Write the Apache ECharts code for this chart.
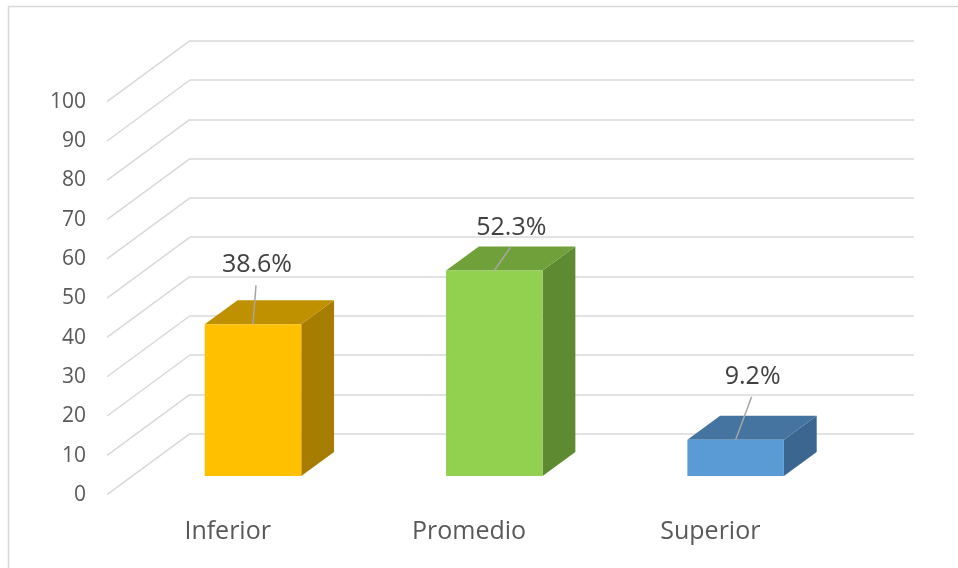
<!DOCTYPE html>
<html>
<head>
<meta charset="utf-8">
<script src="https://cdn.jsdelivr.net/npm/echarts@6/dist/echarts.min.js"></script>
<style>
  html, body { margin: 0; padding: 0; background: #fff; }
  #chart { width: 958px; height: 568px; }
</style>
</head>
<body>
<div id="chart"></div>
<script>
// data
const categories = ['Inferior', 'Promedio', 'Superior'];
const values = [38.6, 52.3, 9.2];
const valueLabels = ['38.6%', '52.3%', '9.2%'];
const yTicks = [0, 10, 20, 30, 40, 50, 60, 70, 80, 90, 100];

// look
const FONT = '"Open Sans", "Noto Sans", sans-serif';
const GRID_COLOR = '#d9d9d9';
const frontColors = ['#FFC000', '#92D050', '#5B9BD5'];
const topColors = ['#BF9000', '#6FA03A', '#44749F'];
const sideColors = ['#A67D00', '#5E8A31', '#3A6690'];
// oblique depth of the floor (back wall -> front edge), px
const DEPTH = [-83, 61];
const T_FRONT = 0.695, T_BACK = 0.30;
const BAR_RATIO = 0.4;
// label centre relative to the bar's front-top centre
const labelOffsets = [[4, -59], [17, -43], [17, -63]];

const chart = echarts.init(document.getElementById('chart'));

const option = {
  animation: false,
  backgroundColor: '#fff',
  graphic: [{
    type: 'rect',
    shape: { x: 8.5, y: 6.5, width: 980, height: 600 },
    style: { fill: 'none', stroke: GRID_COLOR, lineWidth: 1.5 },
    silent: true
  }],
  grid: [
    // back wall
    { left: 190, right: 44, top: 40.7, bottom: 134.4, outerBoundsMode: 'none', containLabel: false },
    // front edge (axis labels)
    { left: 107, right: 127, top: 101.7, bottom: 73, outerBoundsMode: 'none', containLabel: false }
  ],
  xAxis: [
    { gridIndex: 0, type: 'category', data: categories, show: false },
    {
      gridIndex: 1, type: 'category', data: categories,
      axisLine: { show: false }, axisTick: { show: false },
      axisLabel: { color: '#595959', fontSize: 25, fontFamily: FONT, margin: 24 }
    }
  ],
  yAxis: [
    {
      gridIndex: 0, type: 'value', min: 0, max: 100, interval: 10,
      axisLine: { show: false }, axisTick: { show: false }, axisLabel: { show: false },
      splitLine: { lineStyle: { color: GRID_COLOR, width: 1.5 } }
    },
    {
      gridIndex: 1, type: 'value', min: 0, max: 100, interval: 10,
      axisLine: { show: false }, axisTick: { show: false }, splitLine: { show: false },
      axisLabel: { color: '#595959', fontSize: 21, fontFamily: FONT, margin: 21 }
    }
  ],
  series: [
    {
      // diagonal gridlines on the left side wall
      type: 'custom',
      xAxisIndex: 0, yAxisIndex: 0,
      clip: false, silent: true,
      data: yTicks.map(t => [0, t]),
      renderItem: function (params, api) {
        const y = api.coord([0, api.value(1)])[1];
        const x = params.coordSys.x;
        return {
          type: 'line',
          shape: { x1: x, y1: y, x2: x + DEPTH[0], y2: y + DEPTH[1] },
          style: { stroke: GRID_COLOR, lineWidth: 1.5 }
        };
      }
    },
    {
      type: 'custom',
      xAxisIndex: 0, yAxisIndex: 0,
      clip: false, silent: true,
      data: values.map((v, i) => [i, v]),
      renderItem: function (params, api) {
        const i = params.dataIndex;
        const topPt = api.coord([api.value(0), api.value(1)]);
        const basePt = api.coord([api.value(0), 0]);
        const w = api.size([1, 0])[0] * BAR_RATIO;
        const fx = DEPTH[0] * T_FRONT, fy = DEPTH[1] * T_FRONT;
        const bx = DEPTH[0] * T_BACK, by = DEPTH[1] * T_BACK;
        const l = topPt[0] - w / 2, r = topPt[0] + w / 2;
        const top = topPt[1], base = basePt[1];

        const fTL = [l + fx, top + fy], fTR = [r + fx, top + fy];
        const fBL = [l + fx, base + fy], fBR = [r + fx, base + fy];
        const bTL = [l + bx, top + by], bTR = [r + bx, top + by];
        const bBR = [r + bx, base + by];

        const cx = topPt[0] + fx, cy = top + fy;
        const lx = cx + labelOffsets[i][0], ly = cy + labelOffsets[i][1];

        return {
          type: 'group',
          children: [
            { type: 'polygon', shape: { points: [fTR, bTR, bBR, fBR] }, style: { fill: sideColors[i] } },
            { type: 'polygon', shape: { points: [fTL, fTR, bTR, bTL] }, style: { fill: topColors[i] } },
            { type: 'polygon', shape: { points: [fTL, fTR, fBR, fBL] }, style: { fill: frontColors[i] } },
            {
              type: 'line',
              shape: { x1: lx - 1, y1: ly + 20, x2: cx, y2: cy },
              style: { stroke: '#a6a6a6', lineWidth: 1.5 }
            },
            {
              type: 'text',
              style: {
                x: lx, y: ly, text: valueLabels[i],
                fill: '#404040', font: '25px ' + FONT,
                align: 'center', verticalAlign: 'middle'
              }
            }
          ]
        };
      }
    }
  ]
};

chart.setOption(option);
</script>
</body>
</html>
